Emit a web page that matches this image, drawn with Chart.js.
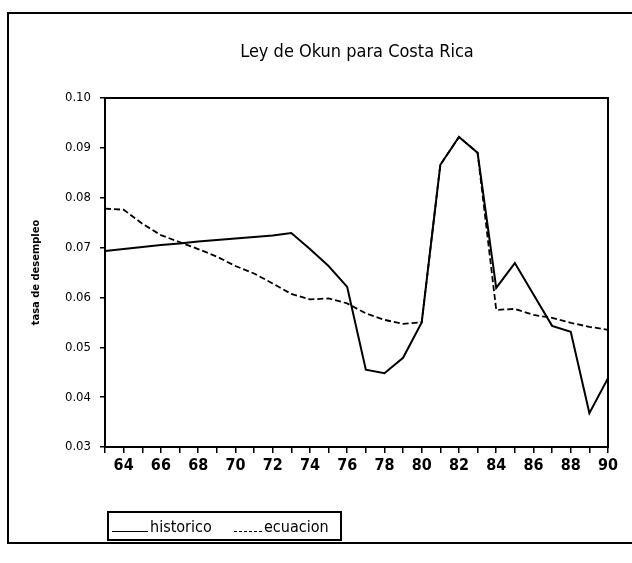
<!DOCTYPE html>
<html>
<head>
<meta charset="utf-8">
<script src="https://cdn.jsdelivr.net/npm/chart.js@4.4.1/dist/chart.umd.min.js"></script>
<style>
  html, body { margin: 0; padding: 0; background: #fff; }
  #wrap { position: relative; width: 632px; height: 563px; overflow: hidden; }
  #frame { position: absolute; left: 7px; top: 12px; width: 640px; height: 532px; border: 2px solid #000; box-sizing: border-box; }
  #title { position: absolute; left: 157px; width: 400px; top: 40px; text-align: center;
           font-family: 'DejaVu Sans Condensed', 'DejaVu Sans', sans-serif; font-size: 18px; line-height: 22px; color: #000; }
  #legend { position: absolute; left: 107px; top: 511px; width: 235px; height: 30px; border: 2px solid #000; box-sizing: border-box;
            font-family: 'DejaVu Sans Condensed', 'DejaVu Sans', sans-serif; font-size: 16px; color: #000; }
  .item { position: absolute; top: 4px; white-space: nowrap; }
  .sample { display: inline-block; vertical-align: baseline; height: 0; margin-right: 2px; }
</style>
</head>
<body>
<div id="wrap">
  <canvas id="okun" width="632" height="563"></canvas>
  <div id="frame"></div>
  <div id="title">Ley de Okun para Costa Rica</div>
  <div id="legend">
    <span class="item" style="left:3px"><span class="sample" style="width:36px;border-top:1.5px solid #000"></span>historico</span>
    <span class="item" style="left:125px"><span class="sample" style="width:28px;border-top:1.5px dashed #000"></span>ecuacion</span>
  </div>
</div>
<script>
// anios 1963 - 1990
const years = [63, 64, 65, 66, 67, 68, 69, 70, 71, 72, 73, 74, 75, 76, 77, 78, 79, 80, 81, 82, 83, 84, 85, 86, 87, 88, 89, 90];

const historico = [0.0693, 0.0697, 0.0701, 0.0705, 0.0708, 0.0712, 0.0715, 0.0718, 0.0721, 0.0724, 0.0729, 0.0697, 0.0663, 0.0621,
                   0.0455, 0.0448, 0.0479, 0.0550, 0.0866, 0.0922, 0.0890, 0.0619, 0.0669, 0.0606, 0.0543, 0.0531, 0.0368, 0.0438];

const ecuacion = [0.0778, 0.0776, 0.0748, 0.0725, 0.0711, 0.0697, 0.0682, 0.0663, 0.0648, 0.0628, 0.0607, 0.0596, 0.0598, 0.0588,
                  0.0568, 0.0555, 0.0547, 0.0550, 0.0866, 0.0922, 0.0890, 0.0575, 0.0577, 0.0565, 0.0559, 0.0549, 0.0541, 0.0535];

const yTicks = [0.03, 0.04, 0.05, 0.06, 0.07, 0.08, 0.09, 0.10];

Chart.defaults.font.family = "'DejaVu Sans Condensed', 'DejaVu Sans', sans-serif";
Chart.defaults.color = '#000';

// caja alrededor del area del grafico
const boxPlugin = {
  id: 'box',
  afterDraw(chart) {
    const a = chart.chartArea;
    const ctx = chart.ctx;
    ctx.save();
    ctx.strokeStyle = '#000';
    ctx.lineWidth = 2;
    ctx.strokeRect(a.left, a.top, a.right - a.left, a.bottom - a.top);
    ctx.restore();
  }
};

new Chart(document.getElementById('okun'), {
  type: 'line',
  data: {
    datasets: [
      {
        label: 'historico',
        data: years.map((yr, i) => ({ x: yr, y: historico[i] })),
        borderColor: '#000',
        borderWidth: 2,
        pointRadius: 0,
        tension: 0
      },
      {
        label: 'ecuacion',
        data: years.map((yr, i) => ({ x: yr, y: ecuacion[i] })),
        borderColor: '#000',
        borderWidth: 1.8,
        borderDash: [6, 3],
        pointRadius: 0,
        tension: 0
      }
    ]
  },
  options: {
    responsive: false,
    animation: false,
    layout: { padding: { left: 0, right: 24, top: 98, bottom: 0 } },
    plugins: {
      legend: { display: false },
      tooltip: { enabled: false },
      title: { display: false }
    },
    scales: {
      x: {
        type: 'linear',
        min: 63,
        max: 90,
        grid: { drawOnChartArea: false, drawTicks: true, tickLength: 6, color: '#000', lineWidth: 1.5 },
        border: { color: '#000', width: 2 },
        ticks: {
          stepSize: 1,
          autoSkip: false,
          maxRotation: 0,
          padding: 3,
          font: { size: 16, weight: 'bold' },
          callback: v => (v % 2 === 0 ? String(v) : '')
        },
        afterFit: s => { s.height = 116; }
      },
      y: {
        min: 0.03,
        max: 0.10,
        grid: { drawOnChartArea: false, drawTicks: true, tickLength: 5, color: '#000', lineWidth: 1.5 },
        border: { color: '#000', width: 2 },
        afterBuildTicks: s => { s.ticks = yTicks.map(v => ({ value: v })); },
        ticks: {
          padding: 9,
          font: { size: 13 },
          callback: v => v.toFixed(2)
        },
        title: {
          display: true,
          text: 'tasa de desempleo',
          font: { size: 11, weight: 'bold' },
          padding: { top: 30, bottom: 0 }
        },
        afterFit: s => { s.width = 105; }
      }
    }
  },
  plugins: [boxPlugin]
});
</script>
</body>
</html>
